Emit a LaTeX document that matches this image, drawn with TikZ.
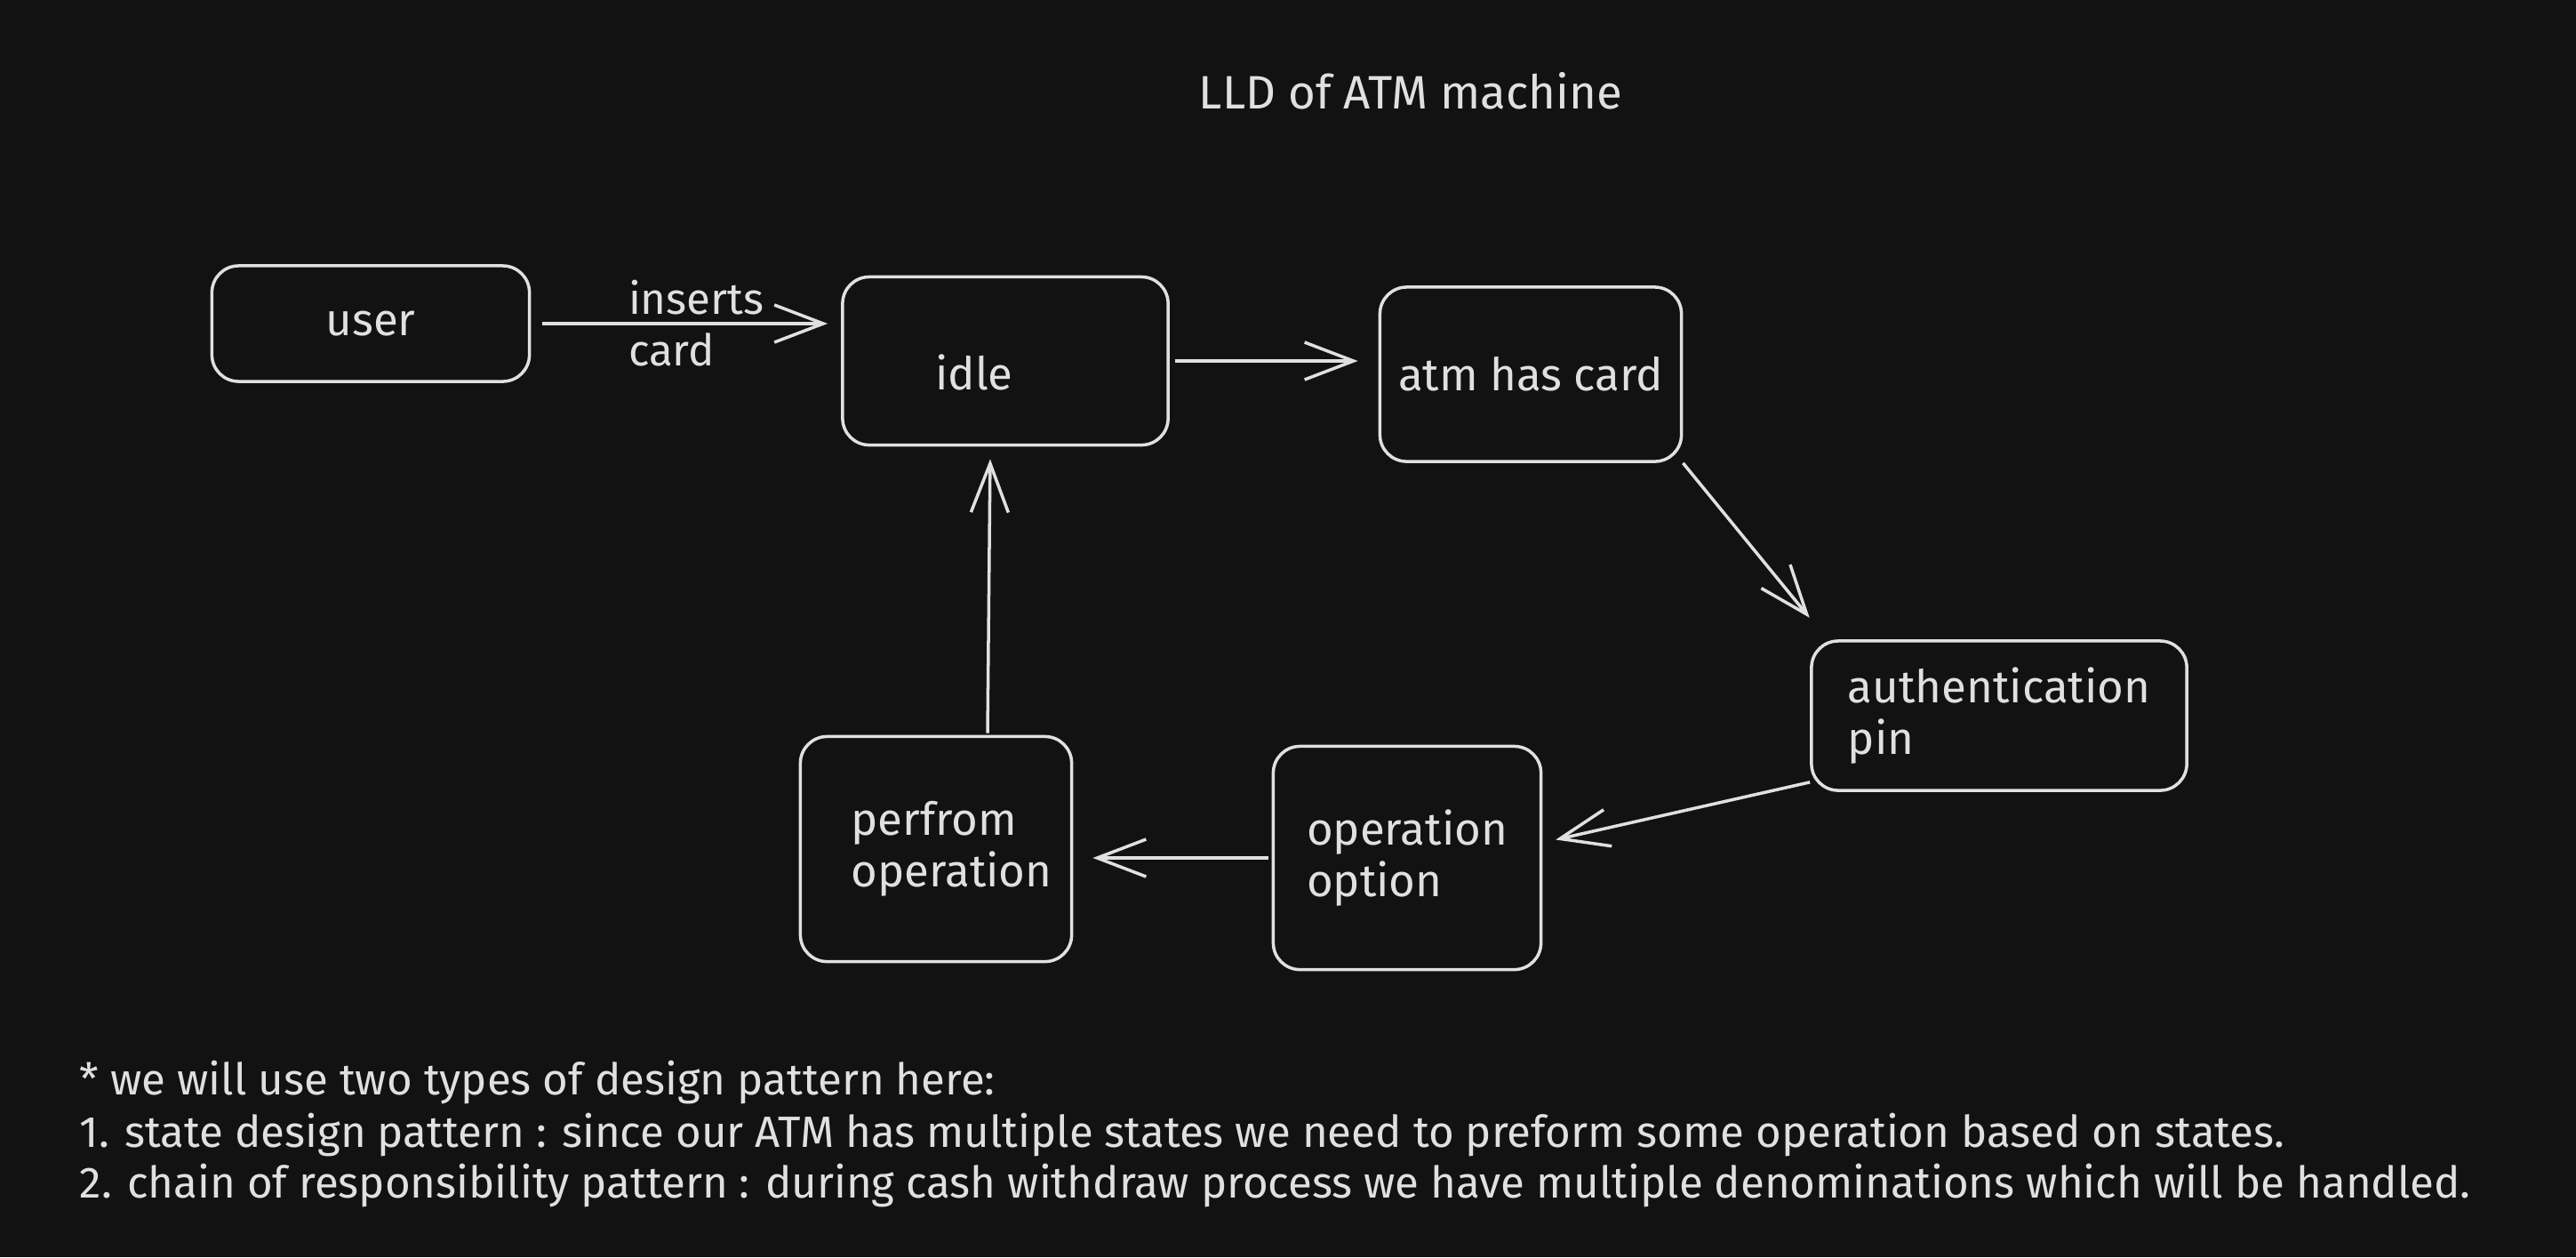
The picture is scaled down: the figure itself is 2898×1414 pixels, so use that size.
\documentclass[tikz,border=0pt]{standalone}
\usepackage{fontspec}
\setmainfont{Fira Sans}
\usetikzlibrary{arrows.meta, positioning, calc}
\definecolor{boardbg}{HTML}{121212}
\definecolor{chalk}{HTML}{E0E0E0}
\tikzset{
    statebox/.style={rectangle, rounded corners=0.3cm, draw=chalk, line width=1pt,
        text=chalk, align=left, font=\fontsize{14.5}{16.5}\selectfont},
    statearrow/.style={-{Straight Barb[length=0.55cm, width=0.42cm, line width=1pt]},
        line width=1pt, draw=chalk, shorten >=2pt},
    notetext/.style={text=chalk, inner sep=0pt, font=\fontsize{14}{16.5}\selectfont},
}

\begin{document}
\begin{tikzpicture}[x=0.01cm, y=-0.01cm]
    \fill[boardbg] (0,0) rectangle (2898,1414);
    \node[notetext, font=\fontsize{15}{18}\selectfont] (title) at (1587,102) {LLD of ATM machine};

    % states
    \node[statebox, minimum width=3.57cm, minimum height=1.30cm] (user) at (417,364) {user};
    \node[statebox, minimum width=3.66cm, minimum height=1.89cm] (idle) at (1131,406) {\raisebox{-0.22cm}[0.2cm][0cm]{idle}\hspace*{0.7cm}};
    \node[statebox, minimum width=3.39cm, minimum height=1.96cm] (atm) at (1722,421) {atm has card};
    \node[statebox, minimum width=4.22cm, minimum height=1.68cm] (auth) at (2249,805) {authentication\\pin};
    \node[statebox, minimum width=3.01cm, minimum height=2.51cm] (opoption) at (1583,965) {operation\\option};
    \node[statebox, minimum width=3.05cm, minimum height=2.53cm] (perform) at (1053,955) {\hspace*{0.35cm}perfrom\\\hspace*{0.35cm}operation};

    % transitions
    \draw[statearrow] ([xshift=0.13cm]user.east) -- ([xshift=-0.08cm]user.east -| idle.west)
        node[midway, notetext, align=left, xshift=0.09cm] (insertlbl) {inserts\\card};
    \draw[statearrow] ([xshift=0.06cm]idle.east) -- ([xshift=-0.16cm]idle.east -| atm.west);
    \draw[statearrow] (atm.south east) -- ($(auth.north west)+(4,-19)$);
    \draw[statearrow] ($(auth.south west)+(0,-11)$) -- ($(opoption.east)+(8,-19)$);
    \draw[statearrow] ([xshift=-0.04cm]opoption.west) -- ([xshift=0.15cm]opoption.west -| perform.east);
    \coordinate (backstart) at ($(perform.north)+(58,-2)$);
    \draw[statearrow] (backstart) -- ($(backstart |- idle.south)+(3,7)$);

    % notes
    \node[notetext, anchor=base west] (note1) at (89,1231) {* we will use two types of design pattern here:};
    \node[notetext, anchor=base west] (note2) at (89,1290) {1. state design pattern : since our ATM has multiple states we need to preform some operation based on states.};
    \node[notetext, anchor=base west] (note3) at (89,1347) {2. chain of responsibility pattern : during cash withdraw process we have multiple denominations which will be handled.};
\end{tikzpicture}
\end{document}
